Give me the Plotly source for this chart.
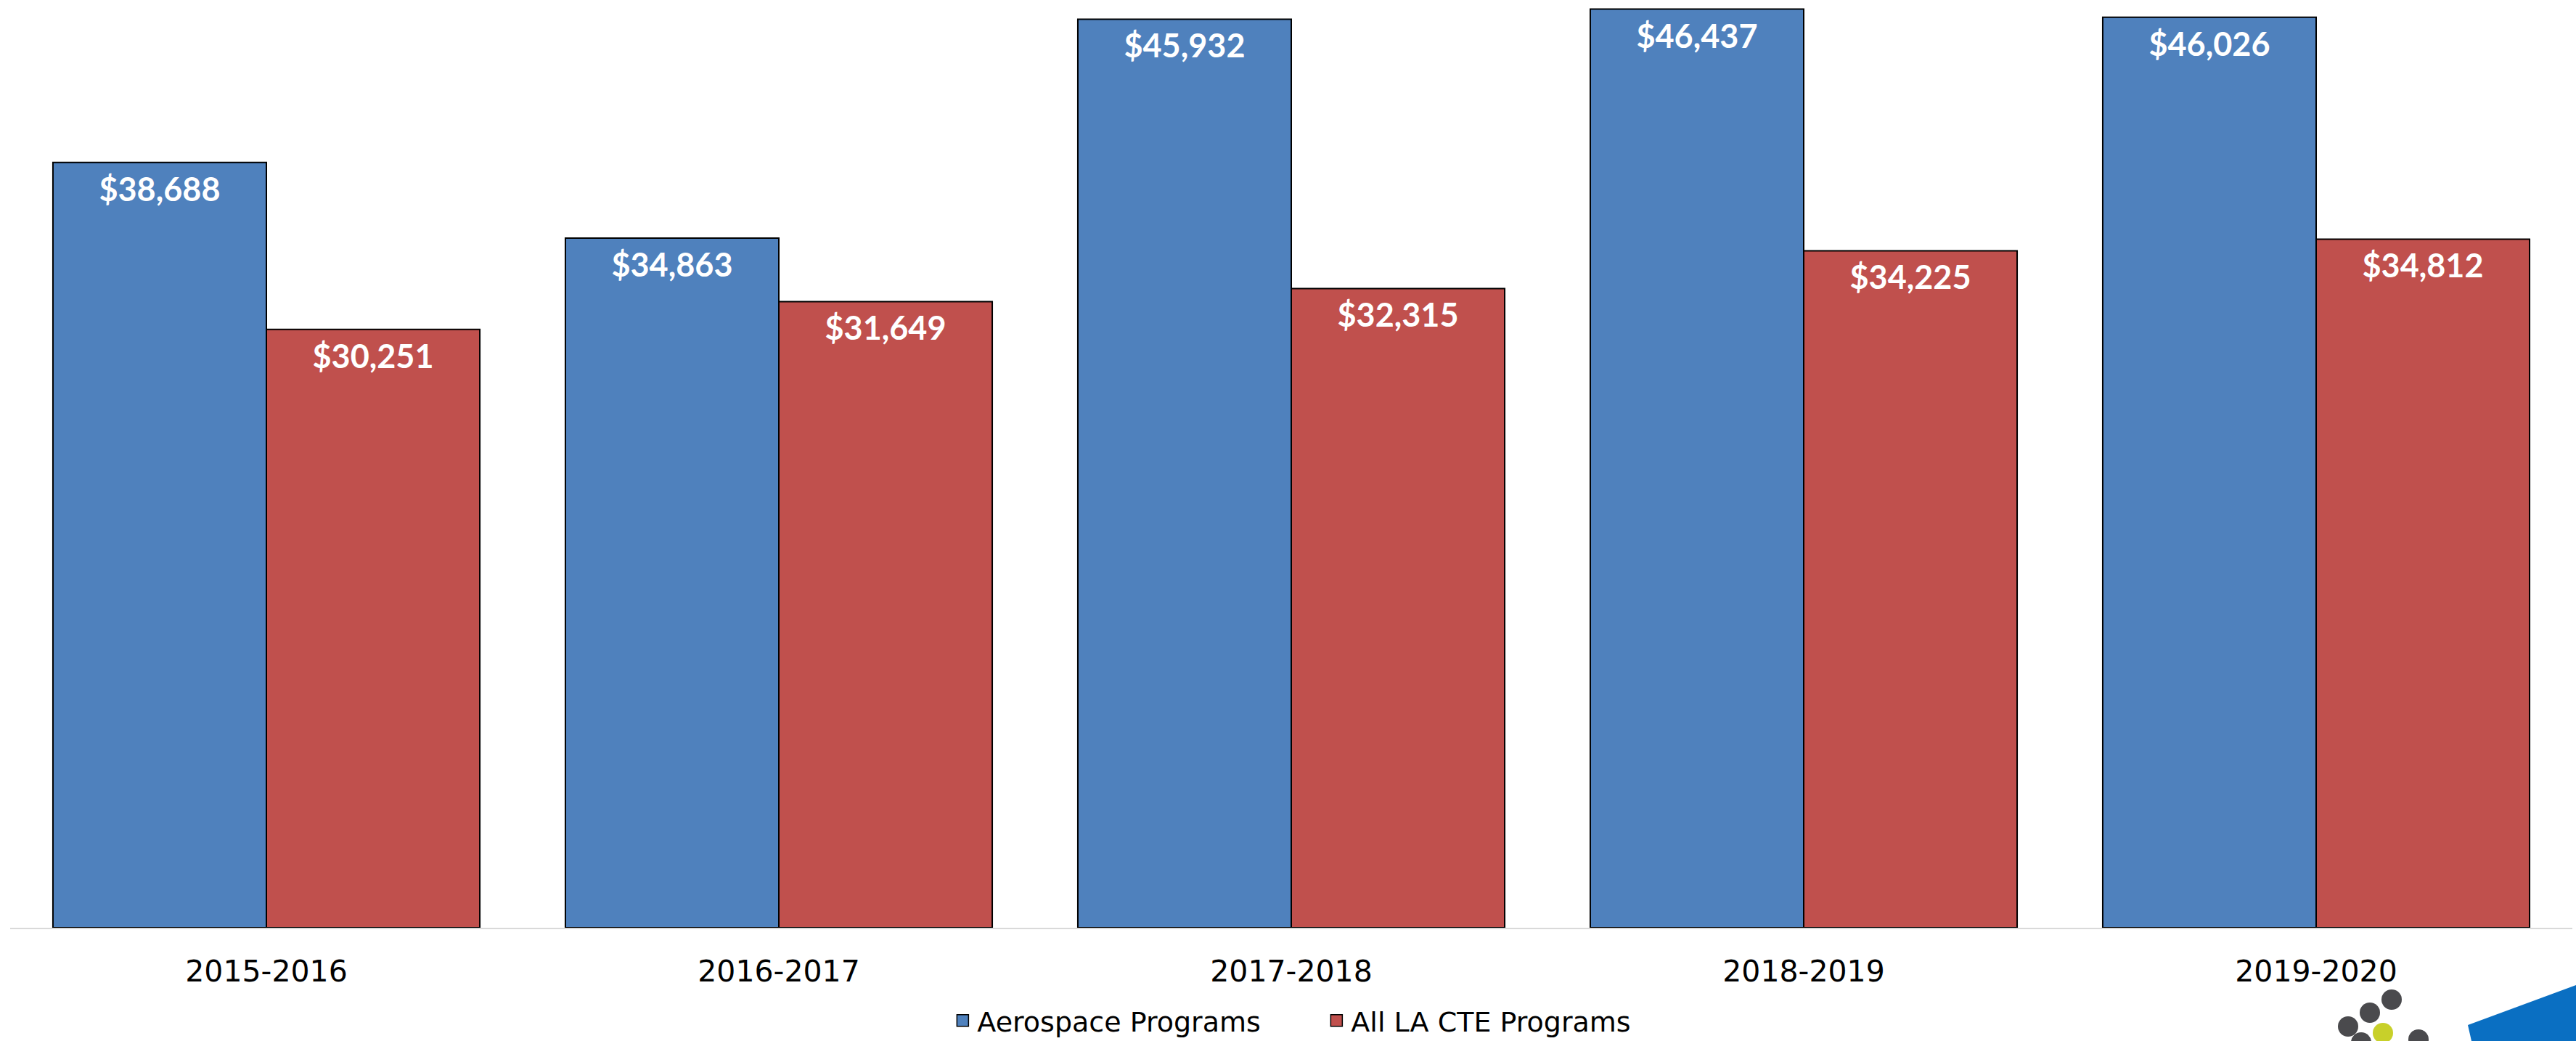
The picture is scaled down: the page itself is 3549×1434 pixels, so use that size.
import plotly.graph_objects as go

# ---- data ----
years = ["2015-2016", "2016-2017", "2017-2018", "2018-2019", "2019-2020"]
aerospace = [38688, 34863, 45932, 46437, 46026]
all_cte = [30251, 31649, 32315, 34225, 34812]
series_names = ["Aerospace Programs", "All LA CTE Programs"]

BLUE = "#4f81bd"
RED = "#c0504d"

W, H = 3549, 1434
ML, MR, MT, MB = 14, 5, 0, 156
PW, PH = W - ML - MR, H - MT - MB

fig = go.Figure()

for name, vals, col, grp in [(series_names[0], aerospace, BLUE, "a"),
                             (series_names[1], all_cte, RED, "b")]:
    fig.add_trace(go.Bar(
        x=years, y=vals, name=name, marker=dict(color=col, line=dict(color="black", width=2)),
        offsetgroup=grp, showlegend=False,
    ))
    # value labels placed inside the top of each bar
    fig.add_trace(go.Scatter(
        x=years, y=vals, mode="markers+text", offsetgroup=grp,
        text=[f"${v:,}" for v in vals], textposition="bottom center",
        textfont=dict(family="Lato", size=45, color="white", weight="bold"),
        marker=dict(size=29, color="rgba(0,0,0,0)"), showlegend=False,
        cliponaxis=False, hoverinfo="skip",
    ))
    # legend entry
    fig.add_trace(go.Scatter(
        x=[None], y=[None], mode="markers", name=name, offsetgroup=grp,
        marker=dict(symbol="square", size=16, color=col, line=dict(color="black", width=1.5)),
        showlegend=True,
    ))


def px(x, y):
    return (x - ML) / PW, (H - MB - y) / PH


shapes = []
dots = [(3295, 1377, "#4a4a4d"), (3265, 1395, "#4a4a4d"), (3235, 1414, "#4a4a4d"),
        (3283, 1423, "#c8d02a"), (3332, 1432, "#4a4a4d"), (3253, 1436, "#4a4a4d")]
for cx, cy, c in dots:
    x0, y0 = px(cx - 14, cy + 14)
    x1, y1 = px(cx + 14, cy - 14)
    shapes.append(dict(type="circle", xref="paper", yref="paper", x0=x0, x1=x1, y0=y0, y1=y1,
                       fillcolor=c, line=dict(width=0), layer="above"))
poly = [(3400, 1412), (3549, 1357), (3549, 1434), (3405, 1434)]
path = "M " + " L ".join(f"{px(a, b)[0]},{px(a, b)[1]}" for a, b in poly) + " Z"
shapes.append(dict(type="path", xref="paper", yref="paper", path=path,
                   fillcolor="#0a6fc2", line=dict(width=0), layer="above"))

fig.update_layout(
    width=W, height=H,
    margin=dict(l=ML, r=MR, t=MT, b=MB, autoexpand=False),
    paper_bgcolor="white", plot_bgcolor="white",
    barmode="group", bargap=0.167, bargroupgap=0,
    scattermode="group", scattergap=0.167,
    showlegend=True,
    legend=dict(orientation="h", x=0.512, xanchor="center",
                yref="container", y=0.0195, yanchor="middle",
                font=dict(family="DejaVu Sans", size=38, color="black"),
                entrywidth=470, entrywidthmode="pixels",
                bgcolor="rgba(0,0,0,0)"),
    xaxis=dict(type="category", showline=True, linecolor="#d9d9d9", linewidth=2,
               showgrid=False, ticks="", ticklabelstandoff=23,
               tickfont=dict(family="DejaVu Sans", size=41, color="black")),
    yaxis=dict(range=[0, 46900], visible=False, showgrid=False, zeroline=False),
    shapes=shapes,
)

fig.write_html("out.html", config={"displayModeBar": False},
               post_script="document.body.style.margin='0';")
